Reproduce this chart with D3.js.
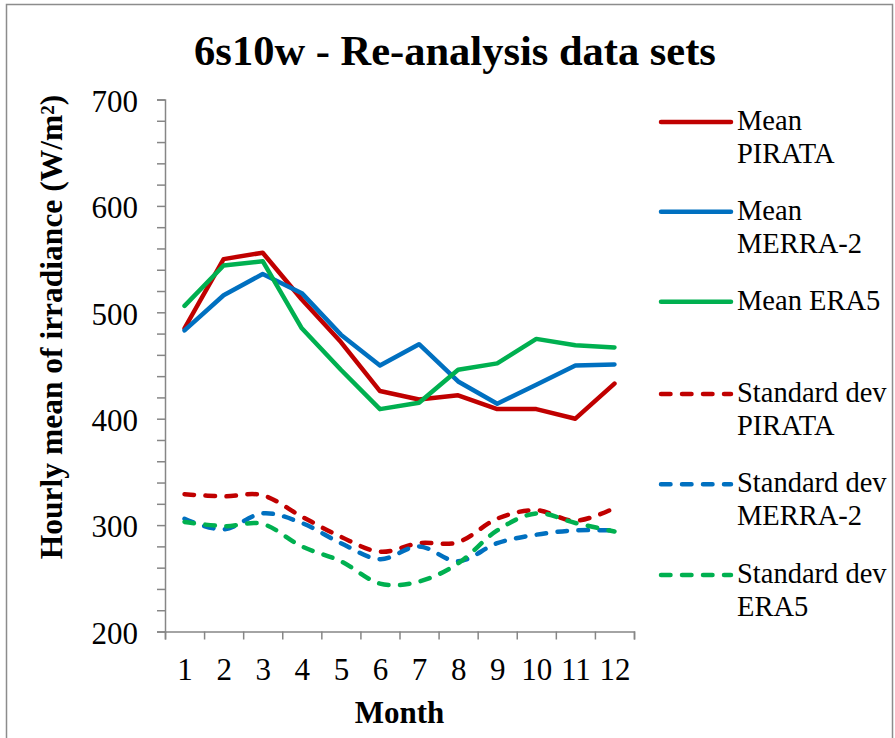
<!DOCTYPE html>
<html>
<head>
<meta charset="UTF-8" />
<title>6s10w - Re-analysis data sets</title>
<script src="https://d3js.org/d3.v7.min.js"></script>
<style>
  body { margin: 0; background: #fff; }
  text { font-family: "Liberation Serif", "Times New Roman", serif; fill: #000; }
</style>
</head>
<body>
<svg id="chart" width="895" height="738"></svg>
<script>
// data
const months = [1, 2, 3, 4, 5, 6, 7, 8, 9, 10, 11, 12]
const meanPirata = [485, 550, 556, 512, 472, 426, 418, 422, 409, 409, 400, 433]
const meanMerra = [483, 516, 536, 518, 479, 450, 470, 435, 414, 432, 450, 451]
const meanEra5 = [506, 544, 548, 485, 446, 409, 415, 446, 452, 475, 469, 467]
const sdPirata = [329, 327, 328, 308, 289, 275, 283, 284, 306, 314, 304, 316]
const sdMerra = [306, 296, 311, 302, 283, 268, 280, 266, 283, 291, 295, 295]
const sdEra5 = [303, 299, 301, 280, 266, 245, 247, 264, 295, 311, 302, 294]
const yTicks = [200, 300, 400, 500, 600, 700]

const red = "#c00000", blue = "#0070c0", green = "#00b050"
const axisGray = "#868686"

const series = [
  {name: ["Mean", "PIRATA"], values: meanPirata, color: red, dashed: false},
  {name: ["Mean", "MERRA-2"], values: meanMerra, color: blue, dashed: false},
  {name: ["Mean ERA5"], values: meanEra5, color: green, dashed: false},
  {name: ["Standard dev", "PIRATA"], values: sdPirata, color: red, dashed: true},
  {name: ["Standard dev", "MERRA-2"], values: sdMerra, color: blue, dashed: true},
  {name: ["Standard dev", "ERA5"], values: sdEra5, color: green, dashed: true}
]

const svg = d3.select("#chart")

// chart frame
svg.append("rect")
  .attr("x", 6.5).attr("y", 4.5).attr("width", 886).attr("height", 760)
  .style("fill", "#fff").style("stroke", "#8c8c8c").style("stroke-width", 1.5)

// scales
const xScale = d3.scaleLinear().domain([0.5, 12.5]).range([165, 634])
const yScale = d3.scaleLinear().domain([200, 700]).range([631.5, 99.5])

// y axis: minor ticks every 20, labels every 100
const yAxis = d3.axisLeft(yScale)
  .tickValues(d3.range(200, 701, 20))
  .tickSize(8)
  .tickFormat(d => yTicks.includes(d) ? d : "")
  .tickPadding(19)
const yG = svg.append("g").attr("transform", `translate(${xScale(0.5)},0)`).call(yAxis)

// x axis: ticks between categories, labels under each month
const xAxis = d3.axisBottom(xScale)
  .tickValues(d3.range(0.5, 13, 1))
  .tickSize(8)
  .tickFormat("")
const xG = svg.append("g").attr("transform", `translate(0,${yScale(200)})`).call(xAxis)
const xLab = svg.append("g").attr("transform", `translate(0,${yScale(200)})`)
  .call(d3.axisBottom(xScale).tickValues(months).tickSize(0).tickPadding(26))
xLab.select(".domain").remove()

svg.selectAll(".domain").style("stroke", axisGray).style("stroke-width", 1.5)
svg.selectAll(".tick line").style("stroke", axisGray).style("stroke-width", 1.5)
svg.selectAll(".tick text")
  .style("font-family", '"Liberation Serif", "Times New Roman", serif')
  .style("font-size", "31px").style("fill", "#000")
yG.selectAll(".tick text").attr("dy", "0.38em")

// lines
const straight = d3.line().x((d, i) => xScale(months[i])).y(d => yScale(d))
const smooth = d3.line().x((d, i) => xScale(months[i])).y(d => yScale(d)).curve(d3.curveCardinal)

series.forEach(s => {
  svg.append("path")
    .attr("d", (s.dashed ? smooth : straight)(s.values))
    .style("fill", "none")
    .style("stroke", s.color)
    .style("stroke-width", 4.5)
    .style("stroke-linejoin", "round")
    .style("stroke-linecap", "round")
    .style("stroke-dasharray", s.dashed ? "9.5,11.5" : null)
})

// legend
const legendY = [122, 211.7, 301.7, 394, 484.3, 575]
series.forEach((s, i) => {
  const g = svg.append("g").attr("transform", `translate(661,${legendY[i]})`)
  g.append("line")
    .attr("x1", 0).attr("x2", 70).attr("y1", 0).attr("y2", 0)
    .style("stroke", s.color).style("stroke-width", 4.5)
    .style("stroke-linecap", "round")
    .style("stroke-dasharray", s.dashed ? "9.5,11.5" : null)
  s.name.forEach((t, j) => {
    g.append("text").attr("x", 76).attr("y", 8 + j * 33)
      .style("font-size", "28.5px").text(t)
  })
})

// title
svg.append("text").attr("x", 455).attr("y", 65)
  .attr("text-anchor", "middle")
  .style("font-size", "42.5px").style("font-weight", "bold")
  .text("6s10w - Re-analysis data sets")

// axis titles
svg.append("text").attr("x", (xScale(0.5) + xScale(12.5)) / 2).attr("y", 723)
  .attr("text-anchor", "middle")
  .style("font-size", "31px").style("font-weight", "bold")
  .text("Month")

const yTitle = svg.append("text")
  .attr("transform", "translate(62,327) rotate(-90)")
  .attr("text-anchor", "middle")
  .style("font-size", "31.5px").style("font-weight", "bold")
yTitle.append("tspan").text("Hourly mean of irradiance (W/m")
yTitle.append("tspan").text("2").attr("dy", "-0.4em").style("font-size", "19px")
yTitle.append("tspan").text(")").attr("dy", "0.25em")
</script>
</body>
</html>
